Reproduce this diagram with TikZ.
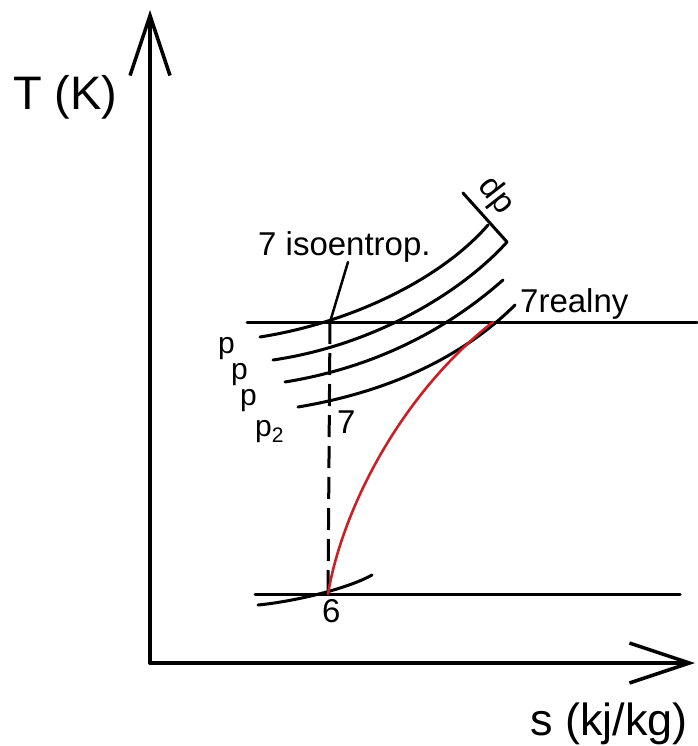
\documentclass[tikz,border=0pt]{standalone}
\usepackage{fontspec}
\setmainfont{Liberation Sans}
\usetikzlibrary{arrows.meta}
\definecolor{realred}{RGB}{200,32,38}
\begin{document}
\begin{tikzpicture}[x=1pt, y=-1pt, line cap=round, line join=round,
  axis/.style={line width=3.5pt, -{Straight Barb[length=60pt,width=40pt]}},
  isobar/.style={line width=3pt},
  lbl/.style={font=\fontsize{33}{36}\selectfont, inner sep=0pt},
  plbl/.style={font=\fontsize{30}{32}\selectfont, inner sep=0pt, anchor=base west}]

  \useasboundingbox (0,0) rectangle (697,746);

  % state points
  \coordinate (O)   at (150,663);
  \coordinate (n7)  at (330,322);
  \coordinate (n6)  at (328,594);
  \coordinate (n7r) at (493,322);
  \coordinate (dpA) at (463,193);
  \coordinate (dpB) at (507,242);

  % axes
  \draw[axis] (O) -- (150,10);
  \draw[axis] (O) -- (695,663);
  \node[font=\fontsize{47}{50}\selectfont, inner sep=0pt, anchor=base west] (Tlbl) at (13,110) {T (K)};
  \node[font=\fontsize{45}{50}\selectfont, inner sep=0pt, anchor=base east] (slbl) at (688,735) {s (kj/kg)};

  % isotherms
  \draw[isobar] (247,322) -- (697,322);
  \draw[isobar] (255,594) -- (680,594);

  % isobars
  \draw[isobar] (260,337) .. controls (355,322) and (443,277) .. (488,225);
  \draw[isobar] (273,360) .. controls (375,345) and (462,292) .. (dpB);
  \draw[isobar] (285,382) .. controls (390,365) and (460,318) .. (503,280);
  \draw[isobar] (298,407) .. controls (400,390) and (470,350) .. (515,305);
  \draw[isobar] (258,605) .. controls (290,602) and (345,590) .. (372,575);

  % dp bracket
  \draw[isobar] (dpA) -- (dpB);
  \node[lbl, rotate=-52] (dp) at (496,196) {dp};

  % isentropic and real expansion
  \draw[isobar, dash pattern=on 22pt off 9pt, line cap=butt] (n7) -- (n6);
  \draw[realred, line width=2.6pt] (n6) .. controls (342,510) and (400,395) .. (n7r);

  % labels
  \node[lbl, anchor=base west] (iso) at (258,255) {7 isoentrop.};
  \draw[line width=2.5pt] (348,262) -- (n7);
  \node[lbl, anchor=base west] (real) at (520,312) {7realny};
  \node[lbl, anchor=base west] (l7) at (337,433) {7};
  \node[lbl, anchor=base west] (l6) at (322,622) {6};
  \node[plbl] (pA) at (218,353) {p};
  \node[plbl] (pB) at (231,379) {p};
  \node[plbl] (pC) at (240,405) {p};
  \node[plbl] (pD) at (255,436) {p\textsubscript{2}};

\end{tikzpicture}
\end{document}
